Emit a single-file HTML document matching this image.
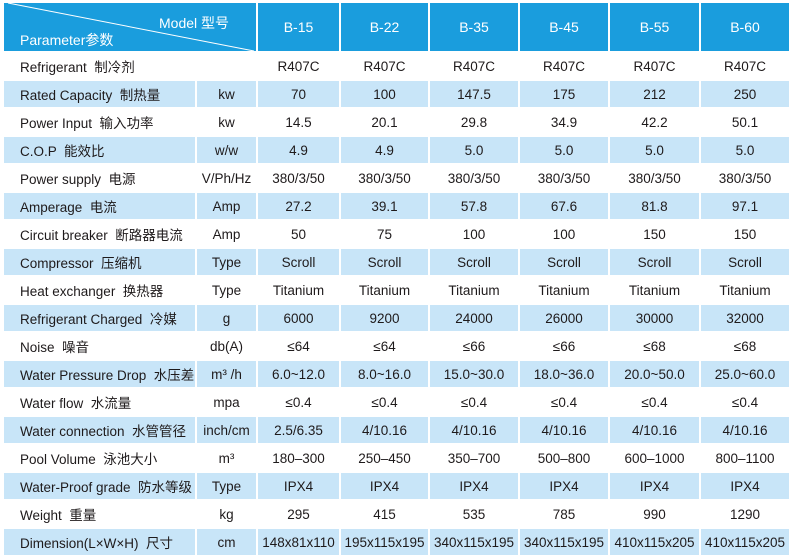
<!DOCTYPE html>
<html><head><meta charset="utf-8"><style>
body{margin:0;background:#fff;width:800px;height:560px;overflow:hidden;position:relative;font-family:"Liberation Sans","Noto Sans CJK SC",sans-serif;}
table{position:absolute;left:2px;top:1px;border-collapse:separate;border-spacing:2px 2px;table-layout:fixed;}
td{padding:0;height:26px;font-size:13.5px;color:#1e1a1b;text-align:center;white-space:nowrap;overflow:hidden;}
td.l{text-align:left;padding-left:16px;}
tr.b td{background:#c8e5f8;}
tr.h td{background:#1a9ddd;color:#fff;height:48px;font-size:14px;}
.d{position:absolute;left:4px;top:3px;}
</style></head><body>
<table>
<colgroup><col style="width:191px"><col style="width:59px"><col style="width:81px"><col style="width:87px"><col style="width:88px"><col style="width:88px"><col style="width:89px"><col style="width:88px"></colgroup>
<tr class="h"><td colspan="2" style="position:relative;text-align:left">
<svg class="d" width="252" height="48" style="left:0;top:0"><line x1="4" y1="0" x2="250" y2="48" stroke="#fff" stroke-width="1"/></svg>
<span style="position:absolute;left:155px;top:10px">Model 型号</span>
<span style="position:absolute;left:16px;top:27px">Parameter参数</span></td>
<td>B-15</td><td>B-22</td><td>B-35</td><td>B-45</td><td>B-55</td><td>B-60</td></tr>
<tr><td class="l">Refrigerant &nbsp;制冷剂</td><td></td><td>R407C</td><td>R407C</td><td>R407C</td><td>R407C</td><td>R407C</td><td>R407C</td></tr>
<tr class="b"><td class="l">Rated Capacity &nbsp;制热量</td><td>kw</td><td>70</td><td>100</td><td>147.5</td><td>175</td><td>212</td><td>250</td></tr>
<tr><td class="l">Power Input &nbsp;输入功率</td><td>kw</td><td>14.5</td><td>20.1</td><td>29.8</td><td>34.9</td><td>42.2</td><td>50.1</td></tr>
<tr class="b"><td class="l">C.O.P &nbsp;能效比</td><td>w/w</td><td>4.9</td><td>4.9</td><td>5.0</td><td>5.0</td><td>5.0</td><td>5.0</td></tr>
<tr><td class="l">Power supply &nbsp;电源</td><td>V/Ph/Hz</td><td>380/3/50</td><td>380/3/50</td><td>380/3/50</td><td>380/3/50</td><td>380/3/50</td><td>380/3/50</td></tr>
<tr class="b"><td class="l">Amperage &nbsp;电流</td><td>Amp</td><td>27.2</td><td>39.1</td><td>57.8</td><td>67.6</td><td>81.8</td><td>97.1</td></tr>
<tr><td class="l">Circuit breaker &nbsp;断路器电流</td><td>Amp</td><td>50</td><td>75</td><td>100</td><td>100</td><td>150</td><td>150</td></tr>
<tr class="b"><td class="l">Compressor &nbsp;压缩机</td><td>Type</td><td>Scroll</td><td>Scroll</td><td>Scroll</td><td>Scroll</td><td>Scroll</td><td>Scroll</td></tr>
<tr><td class="l">Heat exchanger &nbsp;换热器</td><td>Type</td><td>Titanium</td><td>Titanium</td><td>Titanium</td><td>Titanium</td><td>Titanium</td><td>Titanium</td></tr>
<tr class="b"><td class="l">Refrigerant Charged &nbsp;冷媒</td><td>g</td><td>6000</td><td>9200</td><td>24000</td><td>26000</td><td>30000</td><td>32000</td></tr>
<tr><td class="l">Noise &nbsp;噪音</td><td>db(A)</td><td>≤64</td><td>≤64</td><td>≤66</td><td>≤66</td><td>≤68</td><td>≤68</td></tr>
<tr class="b"><td class="l">Water Pressure Drop &nbsp;水压差</td><td>m³ /h</td><td>6.0~12.0</td><td>8.0~16.0</td><td>15.0~30.0</td><td>18.0~36.0</td><td>20.0~50.0</td><td>25.0~60.0</td></tr>
<tr><td class="l">Water flow &nbsp;水流量</td><td>mpa</td><td>≤0.4</td><td>≤0.4</td><td>≤0.4</td><td>≤0.4</td><td>≤0.4</td><td>≤0.4</td></tr>
<tr class="b"><td class="l">Water connection &nbsp;水管管径</td><td>inch/cm</td><td>2.5/6.35</td><td>4/10.16</td><td>4/10.16</td><td>4/10.16</td><td>4/10.16</td><td>4/10.16</td></tr>
<tr><td class="l">Pool Volume &nbsp;泳池大小</td><td>m³</td><td>180–300</td><td>250–450</td><td>350–700</td><td>500–800</td><td>600–1000</td><td>800–1100</td></tr>
<tr class="b"><td class="l">Water-Proof grade &nbsp;防水等级</td><td>Type</td><td>IPX4</td><td>IPX4</td><td>IPX4</td><td>IPX4</td><td>IPX4</td><td>IPX4</td></tr>
<tr><td class="l">Weight &nbsp;重量</td><td>kg</td><td>295</td><td>415</td><td>535</td><td>785</td><td>990</td><td>1290</td></tr>
<tr class="b"><td class="l">Dimension(L×W×H) &nbsp;尺寸</td><td>cm</td><td>148x81x110</td><td>195x115x195</td><td>340x115x195</td><td>340x115x195</td><td>410x115x205</td><td>410x115x205</td></tr>
</table>
</body></html>
